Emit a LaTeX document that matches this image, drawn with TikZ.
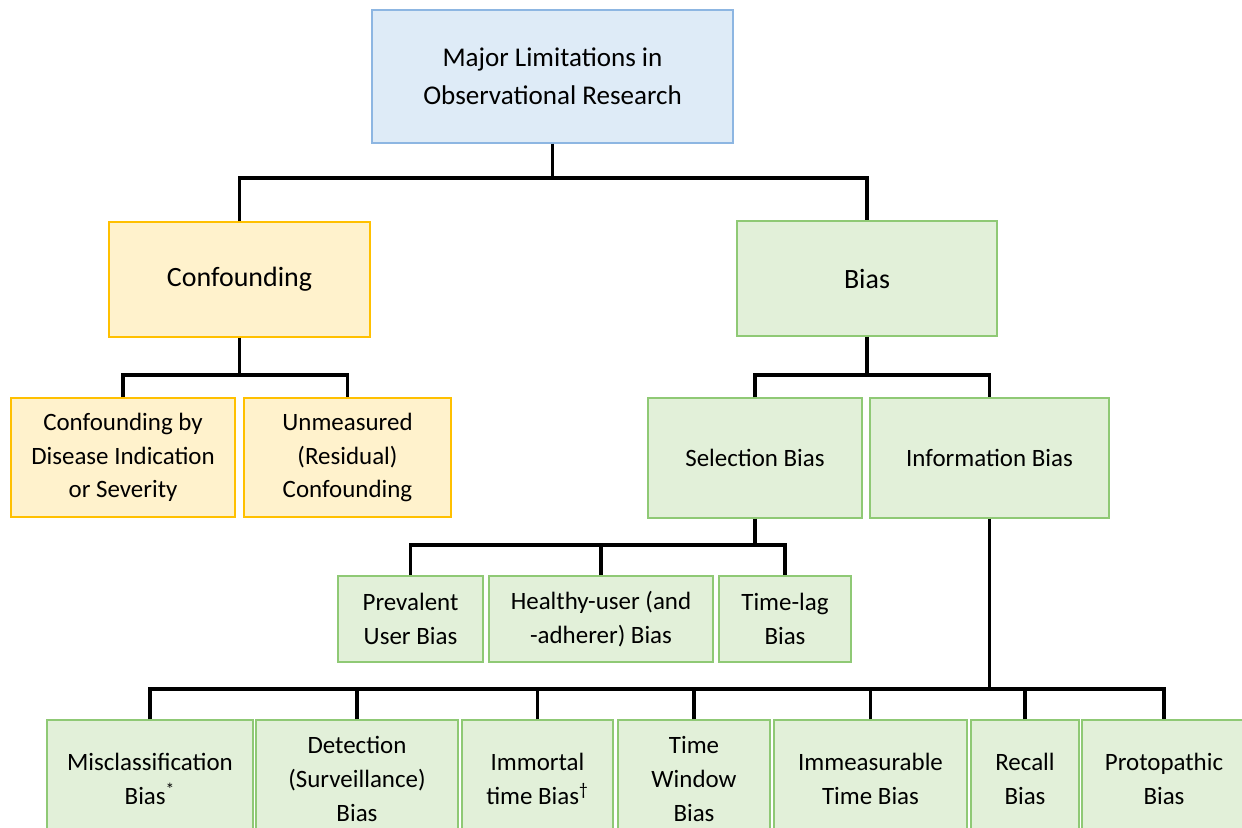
\documentclass[tikz,border=0pt]{standalone}
\usepackage{fontspec}
\setmainfont{Carlito}
\usepackage{tikz}
\definecolor{topfill}{HTML}{DEEBF7}
\definecolor{topline}{HTML}{8DB6E2}
\definecolor{conffill}{HTML}{FFF2CC}
\definecolor{confline}{HTML}{FFC000}
\definecolor{biasfill}{HTML}{E2F0D9}
\definecolor{biasline}{HTML}{8FC975}

\begin{document}
\begin{tikzpicture}[x=0.02cm,y=-0.02cm,
	box/.style={draw,line width=0.6pt,inner sep=0pt,align=center,font=\fontsize{14.2}{19.1}\selectfont},
	sz/.style 2 args={minimum width=#1*0.02cm,minimum height=#2*0.02cm},
	topbox/.style={box,fill=topfill,draw=topline,font=\fontsize{15.4}{21.6}\selectfont},
	confbox/.style={box,fill=conffill,draw=confline},
	biasbox/.style={box,fill=biasfill,draw=biasline},
	bigtext/.style={font=\fontsize{15.9}{21}\selectfont},
	link/.style={line width=2.2pt}]
	\clip (0,0) rectangle (1242,828);

	% junctions of the buses
	\coordinate (j1) at (553,178);
	\coordinate (j2) at (239,375);
	\coordinate (j3) at (866,375);
	\coordinate (j4) at (755,545);
	\coordinate (j5) at (989,689);

	\node (top) at (552.5,76.5) [topbox,sz={361}{133}] {Major Limitations in\\Observational Research};
	\node (conf) at (239.5,279.5) [confbox,bigtext,sz={261}{115}] {Confounding};
	\node (bias) at (867,278.5) [biasbox,bigtext,sz={260}{115}] {Bias};

	\node (cdi) at (123,457.5) [confbox,sz={224}{119}] {Confounding by\\Disease Indication\\or Severity};
	\node (unm) at (347.5,457.5) [confbox,sz={207}{119}] {Unmeasured\\(Residual)\\Confounding};
	\node (sel) at (755,458) [biasbox,sz={214}{120}] {Selection Bias};
	\node (info) at (989.5,458) [biasbox,sz={239}{120}] {Information Bias};

	\node (prev) at (410.5,619) [biasbox,sz={145}{86}] {Prevalent\\User Bias};
	\node (heal) at (601,619) [biasbox,sz={224}{86}] {Healthy-user (and\\-adherer) Bias};
	\node (lag) at (785,619) [biasbox,sz={132}{86}] {Time-lag\\Bias};

	\node (mis) at (150,779) [biasbox,sz={206}{118}] {Misclassification\\Bias\textsuperscript{*}};
	\node (det) at (357,779) [biasbox,sz={202}{118}] {Detection\\(Surveillance)\\Bias};
	\node (imm) at (537.5,779) [biasbox,sz={151}{118}] {Immortal\\time Bias\textsuperscript{†}};
	\node (win) at (694,779) [biasbox,sz={152}{118}] {Time\\Window\\Bias};
	\node (tim) at (870.5,779) [biasbox,sz={193}{118}] {Immeasurable\\Time Bias};
	\node (rec) at (1025,779) [biasbox,sz={108}{118}] {Recall\\Bias};
	\node (pro) at (1164,779) [biasbox,sz={164}{118}] {Protopathic\\Bias};

	\draw[link] (top.south) -- (top.south |- j1);
	\draw[link] (conf.north) |- (j1) -| (bias.north);

	\draw[link] (conf.south) -- (conf.south |- j2);
	\draw[link] (cdi.north) |- (j2) -| (unm.north);

	\draw[link] (bias.south) -- (bias.south |- j3);
	\draw[link] (sel.north) |- (j3) -| (info.north);

	\draw[link] (sel.south) -- (sel.south |- j4);
	\draw[link] (prev.north) |- (j4) -| (lag.north);
	\draw[link] (heal.north) -- (heal.north |- j4);

	\draw[link] (info.south) -- (info.south |- j5);
	\draw[link] (mis.north) |- (j5) -| (pro.north);
	\foreach \n in {det,imm,win,tim,rec}
		\draw[link] (\n.north) -- (\n.north |- j5);
\end{tikzpicture}
\end{document}
